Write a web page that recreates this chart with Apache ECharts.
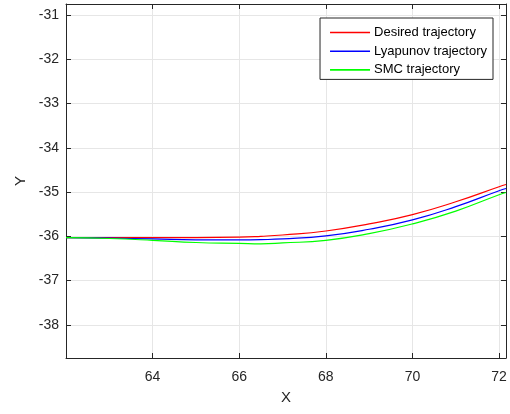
<!DOCTYPE html>
<html>
<head>
<meta charset="utf-8">
<script src="https://cdn.jsdelivr.net/npm/echarts@6/dist/echarts.min.js"></script>
<style>
html, body { margin: 0; padding: 0; background: #fff; }
#chart { width: 510px; height: 414px; }
</style>
</head>
<body>
<div id="chart"></div>
<script>
// data
var xs = [62.0, 63, 64, 65, 66, 66.5, 67, 68, 69, 70, 71, 72, 72.16];
var desired = [-36.03, -36.03, -36.03, -36.03, -36.02, -36.0, -35.97, -35.88, -35.72, -35.51, -35.22, -34.88, -34.83];
var lyapunov = [-36.03, -36.04, -36.06, -36.08, -36.08, -36.075, -36.06, -35.99, -35.84, -35.63, -35.33, -34.97, -34.92];
var smc = [-36.03, -36.05, -36.09, -36.14, -36.16, -36.17, -36.15, -36.09, -35.94, -35.72, -35.43, -35.06, -35.01];
var xTicks = [64, 66, 68, 70, 72];
var yTicks = [-38, -37, -36, -35, -34, -33, -32, -31];
var names = ['Desired trajectory', 'Lyapunov trajectory', 'SMC trajectory'];
var colors = ['#ff0000', '#0000ff', '#00ff00'];

function pairs(ys) {
    var out = [];
    for (var i = 0; i < xs.length; i++) out.push([xs[i], ys[i]]);
    return out;
}

var chart = echarts.init(document.getElementById('chart'));

var axisCol = '#262626';
var font = 'Liberation Sans, Arial, sans-serif';

function mkX(pos, labels) {
    return {
        type: 'value', position: pos, min: 62.0, max: 72.16,
        name: labels ? 'X' : '', nameLocation: 'middle', nameGap: 32,
        nameTextStyle: { color: axisCol, fontSize: 15, fontFamily: font },
        axisLine: { show: true, onZero: false, lineStyle: { color: axisCol, width: 1 } },
        axisTick: { show: true, inside: true, length: 5, customValues: xTicks, lineStyle: { color: axisCol } },
        axisLabel: { show: labels, customValues: xTicks, color: axisCol, fontSize: 14, fontFamily: font, margin: 12 },
        splitLine: { show: labels, lineStyle: { color: '#e6e6e6', width: 1 } }
    };
}
function mkY(pos, labels) {
    return {
        type: 'value', position: pos, min: -38.75, max: -30.75,
        name: labels ? 'Y' : '', nameLocation: 'middle', nameGap: 37,
        nameTextStyle: { color: axisCol, fontSize: 15, fontFamily: font },
        axisLine: { show: true, onZero: false, lineStyle: { color: axisCol, width: 1 } },
        axisTick: { show: true, inside: true, length: 5, customValues: yTicks, lineStyle: { color: axisCol } },
        axisLabel: { show: labels, customValues: yTicks, color: axisCol, fontSize: 14, fontFamily: font, margin: 7 },
        splitLine: { show: labels, lineStyle: { color: '#e6e6e6', width: 1 } }
    };
}

var series = [desired, lyapunov, smc].map(function (ys, i) {
    return {
        name: names[i], type: 'line', data: pairs(ys), smooth: true,
        symbol: 'none', lineStyle: { color: colors[i], width: 1.2 },
        itemStyle: { color: colors[i] }, z: 3 + i
    };
});

chart.setOption({
    animation: false,
    backgroundColor: '#fff',
    grid: { left: 66, right: 4, top: 4, bottom: 56 },
    xAxis: [mkX('bottom', true), mkX('top', false)],
    yAxis: [mkY('left', true), mkY('right', false)],
    legend: {
        orient: 'vertical', right: 17, top: 18,
        icon: 'rect', itemWidth: 40, itemHeight: 1.6, itemGap: 5.7,
        padding: [8, 6, 3, 10],
        backgroundColor: '#fff', borderColor: axisCol, borderWidth: 1,
        textStyle: { color: '#000', fontSize: 13, fontFamily: font, padding: [0, 0, 0, -1] },
        data: names
    },
    series: series
});
</script>
</body>
</html>
